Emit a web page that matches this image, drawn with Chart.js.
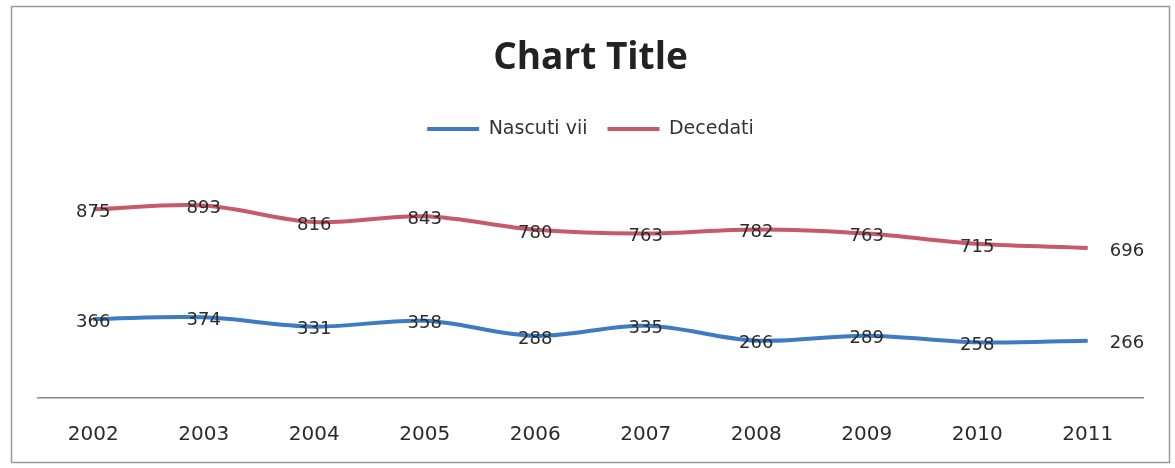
<!DOCTYPE html>
<html>
<head>
<meta charset="utf-8">
<script src="https://cdn.jsdelivr.net/npm/chart.js@4"></script>
<style>
  html, body { margin: 0; padding: 0; background: #fff; }
  #wrap { width: 1175px; height: 468px; }
</style>
</head>
<body>
<div id="wrap"><canvas id="myChart" width="1175" height="468"></canvas></div>
<script>
const years = ["2002", "2003", "2004", "2005", "2006", "2007", "2008", "2009", "2010", "2011"];
const nascutiVii = [366, 374, 331, 358, 288, 335, 266, 289, 258, 266];
const decedati = [875, 893, 816, 843, 780, 763, 782, 763, 715, 696];

// white page + thin grey frame like the Excel chart box
const frame = {
  id: 'frame',
  beforeInit(chart) {
    // leave more room under the legend, as Excel does
    const fit = chart.legend.fit;
    chart.legend.fit = function () {
      fit.call(this);
      this.height += 34;
    };
  },
  beforeDraw(chart) {
    const c = chart.ctx;
    c.save();
    c.fillStyle = '#fff';
    c.fillRect(0, 0, chart.width, chart.height);
    c.strokeStyle = '#9a9a9a';
    c.lineWidth = 1.5;
    c.strokeRect(11.5, 6.5, 1158, 456);
    c.restore();
  }
};

// numbers on the points, the last one pushed to the right of the line
const pointLabels = {
  id: 'pointLabels',
  afterDatasetsDraw(chart) {
    const c = chart.ctx;
    c.save();
    c.font = '18px "DejaVu Sans"';
    c.fillStyle = '#2b2b2b';
    c.textBaseline = 'middle';
    chart.data.datasets.forEach((ds, i) => {
      chart.getDatasetMeta(i).data.forEach((pt, j) => {
        const last = j === ds.data.length - 1;
        c.textAlign = last ? 'left' : 'center';
        c.fillText(ds.data[j], last ? pt.x + 22 : pt.x, pt.y + 3);
      });
    });
    c.restore();
  }
};

new Chart(document.getElementById('myChart').getContext('2d'), {
  type: 'line',
  data: {
    labels: years,
    datasets: [{
      label: 'Nascuti vii',
      data: nascutiVii,
      borderColor: '#3d7cc2',
      backgroundColor: '#3d7cc2',
      borderWidth: 4,
      tension: 0.35,
      pointRadius: 0,
      fill: false
    }, {
      label: 'Decedati',
      data: decedati,
      borderColor: '#c65a6a',
      backgroundColor: '#c65a6a',
      borderWidth: 4,
      tension: 0.35,
      pointRadius: 0,
      fill: false
    }]
  },
  options: {
    responsive: false,
    animation: false,
    layout: { padding: { left: 38, right: 32, top: 36, bottom: -4 } },
    plugins: {
      title: {
        display: true,
        text: 'Chart Title',
        color: '#222',
        font: { family: '"Open Sans"', size: 37, weight: 'bold' },
        padding: { top: 0, bottom: 19 }
      },
      legend: {
        display: true,
        labels: {
          color: '#333',
          font: { family: '"DejaVu Sans"', size: 19 },
          boxWidth: 52,
          boxHeight: 4,
          padding: 20,
          generateLabels(chart) {
            return Chart.defaults.plugins.legend.labels.generateLabels(chart)
              .map(l => Object.assign(l, { lineWidth: 0 }));
          }
        }
      },
      tooltip: { enabled: false }
    },
    scales: {
      x: {
        offset: true,
        grid: { display: false, drawTicks: false },
        border: { display: true, color: '#888', width: 1.5 },
        ticks: {
          color: '#2b2b2b',
          font: { family: '"DejaVu Sans"', size: 20 },
          padding: 25
        }
      },
      y: {
        display: false,
        min: 0,
        max: 1000
      }
    }
  },
  plugins: [frame, pointLabels]
});
</script>
</body>
</html>
